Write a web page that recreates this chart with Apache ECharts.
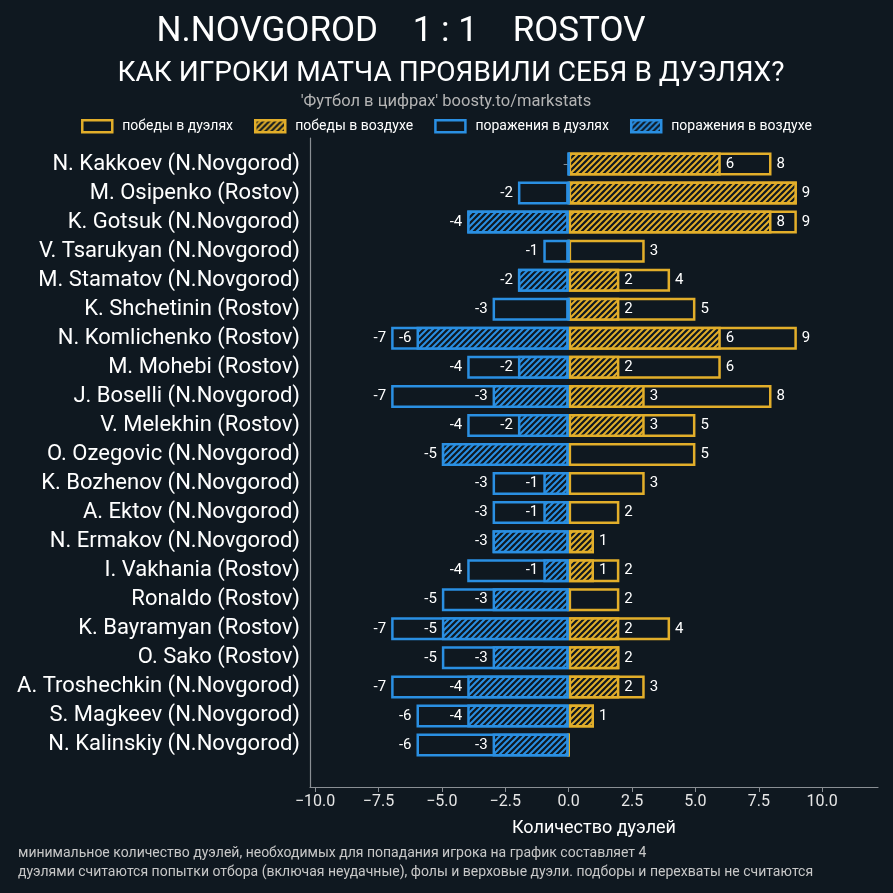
<!DOCTYPE html>
<html>
<head>
<meta charset="utf-8">
<script src="https://cdn.jsdelivr.net/npm/echarts@6/dist/echarts.min.js"></script>
<style>
html,body{margin:0;padding:0;background:#0f1820;}
#c{width:893px;height:893px;}
</style>
</head>
<body>
<div id="c"></div>
<script>
const players = [
  'N. Kakkoev (N.Novgorod)','M. Osipenko (Rostov)','K. Gotsuk (N.Novgorod)','V. Tsarukyan (N.Novgorod)',
  'M. Stamatov (N.Novgorod)','K. Shchetinin (Rostov)','N. Komlichenko (Rostov)','M. Mohebi (Rostov)',
  'J. Boselli (N.Novgorod)','V. Melekhin (Rostov)','O. Ozegovic (N.Novgorod)','K. Bozhenov (N.Novgorod)',
  'A. Ektov (N.Novgorod)','N. Ermakov (N.Novgorod)','I. Vakhania (Rostov)','Ronaldo (Rostov)',
  'K. Bayramyan (Rostov)','O. Sako (Rostov)','A. Troshechkin (N.Novgorod)','S. Magkeev (N.Novgorod)',
  'N. Kalinskiy (N.Novgorod)'
];
const duelWins   = [8, 9, 9, 3, 4, 5, 9, 6, 8, 5, 5, 3, 2, 1, 2, 2, 4, 2, 3, 1, 0];
const aerialWins = [6, 9, 8, 0, 2, 2, 6, 2, 3, 3, 0, 0, 0, 1, 1, 0, 2, 2, 2, 1, 0];
const duelLosses   = [0, -2, -4, -1, -2, -3, -7, -4, -7, -4, -5, -3, -3, -3, -4, -5, -7, -5, -7, -6, -6];
const aerialLosses = [0, 0, -4, 0, -2, 0, -6, -2, -3, -2, -5, -1, -1, -3, -1, -3, -5, -3, -4, -4, -3];
const xTicks = [-10, -7.5, -5, -2.5, 0, 2.5, 5, 7.5, 10];
const seriesNames = ['победы в дуэлях', 'победы в воздухе', 'поражения в дуэлях', 'поражения в воздухе'];

const BG = '#0f1820';
const GOLD = '#e2ae2a';
const BLUE = '#2a8fe2';
const AXIS = '#8a8f94';

function hatch(color) {
  const s = 6;
  const c = document.createElement('canvas');
  c.width = s; c.height = s;
  const g = c.getContext('2d');
  g.fillStyle = BG; g.fillRect(0, 0, s, s);
  g.strokeStyle = color; g.lineWidth = 2; g.lineCap = 'square';
  g.beginPath();
  g.moveTo(0, s); g.lineTo(s, 0);
  g.moveTo(-s, s); g.lineTo(s, -s);
  g.moveTo(0, 2 * s); g.lineTo(2 * s, 0);
  g.stroke();
  return { image: c, repeat: 'repeat' };
}

const FONT = 'Roboto';
const totalFmt = p => (p.value === 0 ? '' : String(p.value));
const airFmt = totals => p => (p.value === 0 || p.value === totals[p.dataIndex] ? '' : String(p.value));
const lblStyle = { color: '#ffffff', fontSize: 15, fontFamily: FONT, distance: 5 };
const BW = 23;

const chart = echarts.init(document.getElementById('c'), null, { renderer: 'canvas' });
chart.setOption({
  backgroundColor: BG,
  animation: false,
  title: [
    { text: 'N.NOVGOROD    1 : 1    ROSTOV', left: 401, top: 15, padding: 0, textAlign: 'center',
      textStyle: { color: '#ffffff', fontSize: 35, fontWeight: 'normal', fontFamily: FONT } },
    { text: 'КАК ИГРОКИ МАТЧА ПРОЯВИЛИ СЕБЯ В ДУЭЛЯХ?', left: 451, top: 60, padding: 0, textAlign: 'center',
      textStyle: { color: '#ffffff', fontSize: 28, fontWeight: 'normal', fontFamily: FONT } },
    { text: "'Футбол в цифрах' boosty.to/markstats", left: 446, top: 93, padding: 0, textAlign: 'center',
      textStyle: { color: '#b4b4b4', fontSize: 16.5, fontWeight: 'normal', fontFamily: FONT } },
    { text: 'минимальное количество дуэлей, необходимых для попадания игрока на график составляет 4\nдуэлями считаются попытки отбора (включая неудачные), фолы и верховые дуэли. подборы и перехваты не считаются',
      left: 18, top: 844, padding: 0,
      textStyle: { color: '#c8c8c8', fontSize: 14, fontWeight: 'normal', fontFamily: FONT, lineHeight: 19 } }
  ],
  legend: {
    data: seriesNames,
    top: 119, left: 'center', padding: 0,
    itemWidth: 30, itemHeight: 12, itemGap: 21,
    icon: 'rect',
    textStyle: { color: '#ffffff', fontSize: 14, fontFamily: FONT, padding: [0, 0, 0, 5] },
    itemStyle: { borderWidth: 2.5 }
  },
  grid: [
    { left: 310, right: 15, top: 149.5, bottom: 133.5 },
    { left: 310, right: 15, top: 138, bottom: 106 }
  ],
  xAxis: [
    { type: 'value', gridIndex: 0, min: -10.2, max: 12.2, show: false },
    { type: 'value', gridIndex: 1, min: -10.2, max: 12.2,
      axisLine: { show: true, onZero: false, lineStyle: { color: AXIS, width: 1.2 } },
      axisTick: { show: true, customValues: xTicks, length: 5, lineStyle: { color: AXIS } },
      axisLabel: { customValues: xTicks, color: '#e6e6e6', fontSize: 16, fontFamily: FONT, margin: 7,
        formatter: v => (v < 0 ? '\u2212' + Math.abs(v).toFixed(1) : v.toFixed(1)) },
      splitLine: { show: false },
      name: 'Количество дуэлей', nameLocation: 'middle', nameGap: 32,
      nameTextStyle: { color: '#ffffff', fontSize: 18, fontFamily: FONT } }
  ],
  yAxis: [
    { type: 'category', gridIndex: 0, data: players, inverse: true,
      axisLine: { show: false },
      axisTick: { show: true, alignWithLabel: true, length: 5, lineStyle: { color: AXIS } },
      axisLabel: { color: '#ffffff', fontSize: 22, fontFamily: FONT, margin: 10 } },
    { type: 'value', gridIndex: 1, min: 0, max: 1,
      axisLine: { show: true, onZero: false, lineStyle: { color: AXIS, width: 1.2 } },
      axisTick: { show: false }, axisLabel: { show: false }, splitLine: { show: false } }
  ],
  series: [
    { name: seriesNames[0], type: 'bar', xAxisIndex: 0, yAxisIndex: 0, data: duelWins,
      barWidth: BW, barGap: '-100%',
      itemStyle: { color: BG, borderColor: GOLD, borderWidth: 2.5 },
      label: Object.assign({ show: true, position: 'right', formatter: totalFmt }, lblStyle) },
    { name: seriesNames[1], type: 'bar', xAxisIndex: 0, yAxisIndex: 0, data: aerialWins,
      barWidth: BW, barGap: '-100%',
      itemStyle: { color: hatch(GOLD), borderColor: GOLD, borderWidth: 2.5 },
      label: Object.assign({ show: true, position: 'right', formatter: airFmt(duelWins) }, lblStyle) },
    { name: seriesNames[2], type: 'bar', xAxisIndex: 0, yAxisIndex: 0, data: duelLosses,
      barWidth: BW, barGap: '-100%',
      itemStyle: { color: BG, borderColor: BLUE, borderWidth: 2.5 },
      label: Object.assign({ show: true, position: 'left', formatter: totalFmt }, lblStyle) },
    { name: seriesNames[3], type: 'bar', xAxisIndex: 0, yAxisIndex: 0, data: aerialLosses,
      barWidth: BW, barGap: '-100%',
      itemStyle: { color: hatch(BLUE), borderColor: BLUE, borderWidth: 2.5 },
      label: Object.assign({ show: true, position: 'left', formatter: airFmt(duelLosses) }, lblStyle) }
  ]
});
</script>
</body>
</html>
